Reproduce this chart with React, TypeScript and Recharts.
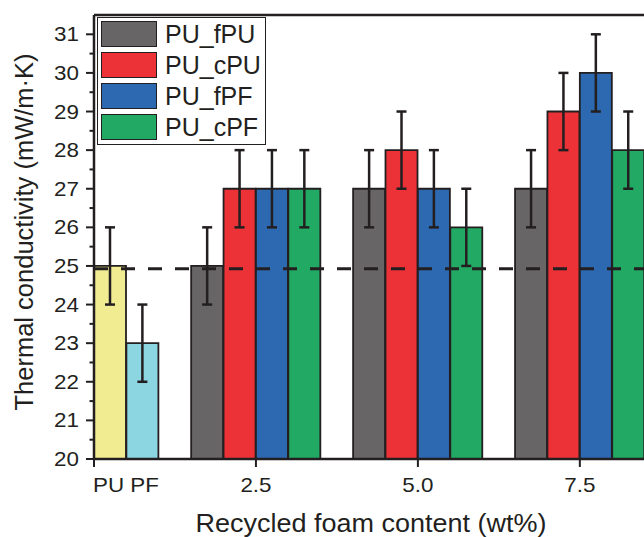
import {
  ComposedChart,
  Bar,
  Cell,
  ErrorBar,
  XAxis,
  YAxis,
  ReferenceLine,
  Legend,
} from "recharts";

const INK = "#231F20";
const FONT = "'Liberation Sans', Arial, Helvetica, sans-serif";

// neat reference foams at x = 0
const BASE_LABELS = ["PU", "PF"];
const BASE_VALUES = [25, 23];
const BASE_ERRORS = [1, 1];
const BASE_COLORS = ["#F1EC91", "#8CD6E1"];

// recycled foam content groups
const CONTENTS = [2.5, 5.0, 7.5];
const SERIES = ["PU_fPU", "PU_cPU", "PU_fPF", "PU_cPF"];
const SERIES_COLORS = ["#676566", "#EC3237", "#2D69B1", "#22A963"];
const FPU_VALUES = [25, 27, 27];
const CPU_VALUES = [27, 28, 29];
const FPF_VALUES = [27, 27, 30];
const CPF_VALUES = [27, 26, 28];
const FPU_ERRORS = [1, 1, 1];
const CPU_ERRORS = [1, 1, 1];
const FPF_ERRORS = [1, 1, 1];
const CPF_ERRORS = [1, 1, 1];

const DASHED_REF = 24.93;
const X_TICKS = [0, 2.5, 5.0, 7.5];
const Y_TICKS = [20, 20.5, 21, 21.5, 22, 22.5, 23, 23.5, 24, 24.5, 25, 25.5, 26, 26.5, 27, 27.5, 28, 28.5, 29, 29.5, 30, 30.5, 31];
const Y_MIN = 20;
const Y_MAX = 31.5;

type Row = { slot: string; pos: number; value: number | null; err: number | null; color: string };

const seriesValues = [FPU_VALUES, CPU_VALUES, FPF_VALUES, CPF_VALUES];
const seriesErrors = [FPU_ERRORS, CPU_ERRORS, FPF_ERRORS, CPF_ERRORS];

// each bar occupies a half-unit slot on the x axis
const SLOT = 0.5;
const raw: Omit<Row, "pos">[] = [];
BASE_LABELS.forEach((l, i) =>
  raw.push({ slot: l, value: BASE_VALUES[i], err: BASE_ERRORS[i], color: BASE_COLORS[i] })
);
CONTENTS.forEach((c, g) => {
  raw.push({ slot: `gap-${c}`, value: null, err: null, color: "none" });
  SERIES.forEach((s, k) =>
    raw.push({ slot: `${s}-${c}`, value: seriesValues[k][g], err: seriesErrors[k][g], color: SERIES_COLORS[k] })
  );
});
raw.push({ slot: "end", value: null, err: null, color: "none" });
const rows: Row[] = raw.map((r, i) => ({ ...r, pos: i * SLOT + SLOT / 2 }));
const X_MAX = rows.length * SLOT;

function YTick(props: any) {
  const { x, y, payload } = props;
  const major = Number.isInteger(payload.value);
  return (
    <g>
      <line x1={x - (major ? 8 : 4.5)} x2={x} y1={y} y2={y} stroke={INK} strokeWidth={2} />
      {major && (
        <text
          transform={`translate(${x - 15},${y + 7}) scale(1.12,1)`}
          textAnchor="end"
          fontSize={20}
          fontFamily={FONT}
          fill={INK}
        >
          {payload.value}
        </text>
      )}
    </g>
  );
}

function XTick(props: any) {
  const { x, y, payload } = props;
  const v = payload.value as number;
  return (
    <g>
      <line x1={x} x2={x} y1={y} y2={y + 8} stroke={INK} strokeWidth={2} />
      <text
        transform={`translate(${v === 0 ? x - 1 : x},${y + 33}) scale(1.12,1)`}
        textAnchor={v === 0 ? "start" : "middle"}
        fontSize={20}
        fontFamily={FONT}
        fill={INK}
      >
        {v === 0 ? BASE_LABELS.join(" ") : v.toFixed(1)}
      </text>
    </g>
  );
}

function LegendBox() {
  return (
    <div
      style={{
        border: `1.5px solid ${INK}`,
        background: "#fff",
        padding: "1px 3px",
        boxSizing: "border-box",
        width: 169,
        height: 128,
        fontFamily: FONT,
      }}
    >
      {SERIES.map((s, i) => (
        <div key={s} style={{ display: "flex", alignItems: "center", height: 30.75 }}>
          <div
            style={{
              width: 56,
              height: 26,
              boxSizing: "border-box",
              border: `1.5px solid ${INK}`,
              background: SERIES_COLORS[i],
            }}
          />
          <span style={{ marginLeft: 8, fontSize: 25, lineHeight: "26px", color: INK }}>{s}</span>
        </div>
      ))}
    </div>
  );
}

export default function App() {
  return (
    <div
      style={{
        position: "absolute",
        left: 0,
        top: 0,
        width: 644,
        height: 537,
        overflow: "hidden",
        background: "#fff",
      }}
    >
      <ComposedChart
        width={682}
        height={537}
        data={rows}
        margin={{ top: 15, right: 5, left: 0, bottom: 0 }}
        barCategoryGap={0}
        barGap={0}
      >
        <XAxis
          dataKey="pos"
          type="number"
          domain={[0, X_MAX]}
          ticks={X_TICKS}
          interval={0}
          allowDataOverflow
          height={78}
          tickSize={0}
          tickMargin={0}
          tickLine={false}
          tick={<XTick />}
          axisLine={{ stroke: INK, strokeWidth: 2.5 }}
          label={{
            content: (p: any) => {
              const vb = p.viewBox;
              return (
                <text
                  transform={`translate(${vb.x + 277},${vb.y + 73}) scale(1.08,1)`}
                  textAnchor="middle"
                  fontSize={25}
                  fontFamily={FONT}
                  fill={INK}
                >
                  Recycled foam content (wt%)
                </text>
              );
            },
          }}
        />
        <YAxis
          type="number"
          domain={[Y_MIN, Y_MAX]}
          ticks={Y_TICKS}
          interval={0}
          allowDataOverflow
          width={94}
          tickSize={0}
          tickMargin={0}
          tickLine={false}
          tick={<YTick />}
          axisLine={{ stroke: INK, strokeWidth: 2.5 }}
          label={{
            content: (p: any) => {
              const vb = p.viewBox;
              return (
                <text
                  transform={`translate(33,${vb.y + vb.height / 2 - 5}) rotate(-90)`}
                  textAnchor="middle"
                  fontSize={25.5}
                  fontFamily={FONT}
                  fill={INK}
                >
                  Thermal conductivity (mW/m·K)
                </text>
              );
            },
          }}
        />
        <Bar dataKey="value" isAnimationActive={false} stroke={INK} strokeWidth={1.8}>
          {rows.map((r) => (
            <Cell key={r.slot} fill={r.color} />
          ))}
          <ErrorBar dataKey="err" width={5} stroke={INK} strokeWidth={2.5} direction="y" isAnimationActive={false} />
        </Bar>
        <ReferenceLine y={Y_MAX} stroke={INK} strokeWidth={2.5} />
        <ReferenceLine y={DASHED_REF} stroke={INK} strokeWidth={3} strokeDasharray="14 13" />
        <Legend
          layout="vertical"
          align="center"
          verticalAlign="middle"
          wrapperStyle={{ position: "absolute", left: 97, top: 17, width: 169, height: 128 }}
          content={() => <LegendBox />}
        />
      </ComposedChart>
    </div>
  );
}
